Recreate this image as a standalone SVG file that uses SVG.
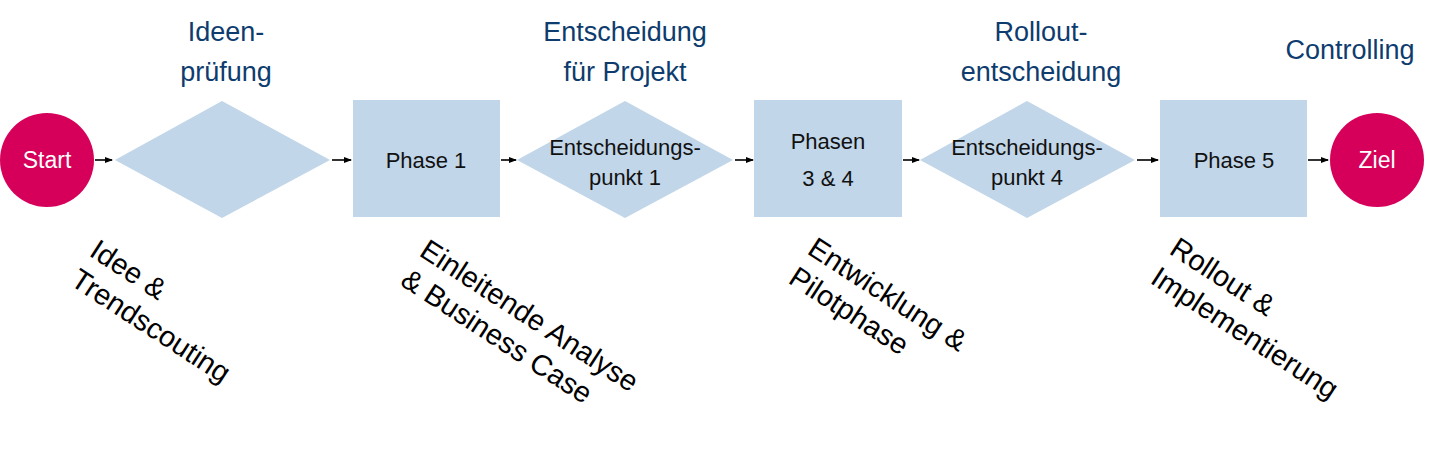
<svg xmlns="http://www.w3.org/2000/svg" width="1448" height="449" viewBox="0 0 1448 449">
<style>
text{font-family:"Liberation Sans",Arial,sans-serif}
.c{fill:#d6005b}.b{fill:#c1d6e9}
.ct{fill:#fff;font-size:23px;text-anchor:middle}
.nt{fill:#111;font-size:22px;text-anchor:middle}
.top{fill:#0e3c6e;font-size:27px;text-anchor:middle}
.rot{fill:#000;font-size:29px}
.ln{stroke:#000;stroke-width:1.6;fill:none}
</style>
<defs><marker id="ah" markerWidth="8" markerHeight="8" refX="7" refY="4" orient="auto" markerUnits="userSpaceOnUse"><path d="M0,1 L8,4 L0,7 Z" fill="#000"/></marker></defs>
<rect width="1448" height="449" fill="#fff"/>
<g id="start"><circle class="c" cx="47" cy="160" r="47"/><text class="ct" x="47" y="168">Start</text></g>
<g id="d1"><polygon class="b" points="115,160 222,101 330,160 222,218"/></g>
<g id="p1"><rect class="b" x="353" y="100" width="147" height="117"/><text class="nt" x="426" y="168">Phase 1</text></g>
<g id="d2"><polygon class="b" points="517,160 625,101 733,160 625,218"/><text class="nt" x="625" y="155">Entscheidungs-</text><text class="nt" x="625" y="185">punkt 1</text></g>
<g id="p34"><rect class="b" x="754" y="100" width="148" height="117"/><text class="nt" x="828" y="149">Phasen</text><text class="nt" x="828" y="186">3 &amp; 4</text></g>
<g id="d4"><polygon class="b" points="920,160 1027,101 1135,160 1027,218"/><text class="nt" x="1027" y="155">Entscheidungs-</text><text class="nt" x="1027" y="185">punkt 4</text></g>
<g id="p5"><rect class="b" x="1160" y="100" width="147" height="117"/><text class="nt" x="1234" y="168">Phase 5</text></g>
<g id="ziel"><circle class="c" cx="1377" cy="160" r="47"/><text class="ct" x="1377" y="168">Ziel</text></g>
<g id="connectors">
<line class="ln" x1="95" y1="160" x2="112" y2="160" marker-end="url(#ah)"/>
<line class="ln" x1="332" y1="160" x2="351" y2="160" marker-end="url(#ah)"/>
<line class="ln" x1="501" y1="160" x2="516" y2="160" marker-end="url(#ah)"/>
<line class="ln" x1="735" y1="160" x2="753" y2="160" marker-end="url(#ah)"/>
<line class="ln" x1="903" y1="160" x2="919" y2="160" marker-end="url(#ah)"/>
<line class="ln" x1="1137" y1="160" x2="1158" y2="160" marker-end="url(#ah)"/>
<line class="ln" x1="1308" y1="160" x2="1328" y2="160" marker-end="url(#ah)"/>
</g>
<g id="toplabels">
<text class="top" x="226" y="41">Ideen-</text><text class="top" x="226" y="81">prüfung</text>
<text class="top" x="625" y="41">Entscheidung</text><text class="top" x="625" y="81">für Projekt</text>
<text class="top" x="1041" y="41">Rollout-</text><text class="top" x="1041" y="81">entscheidung</text>
<text class="top" x="1350" y="59">Controlling</text>
</g>
<g id="rotlabels">
<text class="rot" transform="translate(88,255) rotate(33)"><tspan x="0" y="0">Idee &amp;</tspan><tspan x="0" y="35">Trendscouting</tspan></text>
<text class="rot" transform="translate(418,255) rotate(33)"><tspan x="0" y="0">Einleitende Analyse</tspan><tspan x="0" y="35">&amp; Business Case</tspan></text>
<text class="rot" transform="translate(806,253) rotate(33)"><tspan x="0" y="0">Entwicklung &amp;</tspan><tspan x="0" y="35">Pilotphase</tspan></text>
<text class="rot" transform="translate(1168,253) rotate(33)"><tspan x="0" y="0">Rollout &amp;</tspan><tspan x="0" y="35">Implementierung</tspan></text>
</g>
</svg>
